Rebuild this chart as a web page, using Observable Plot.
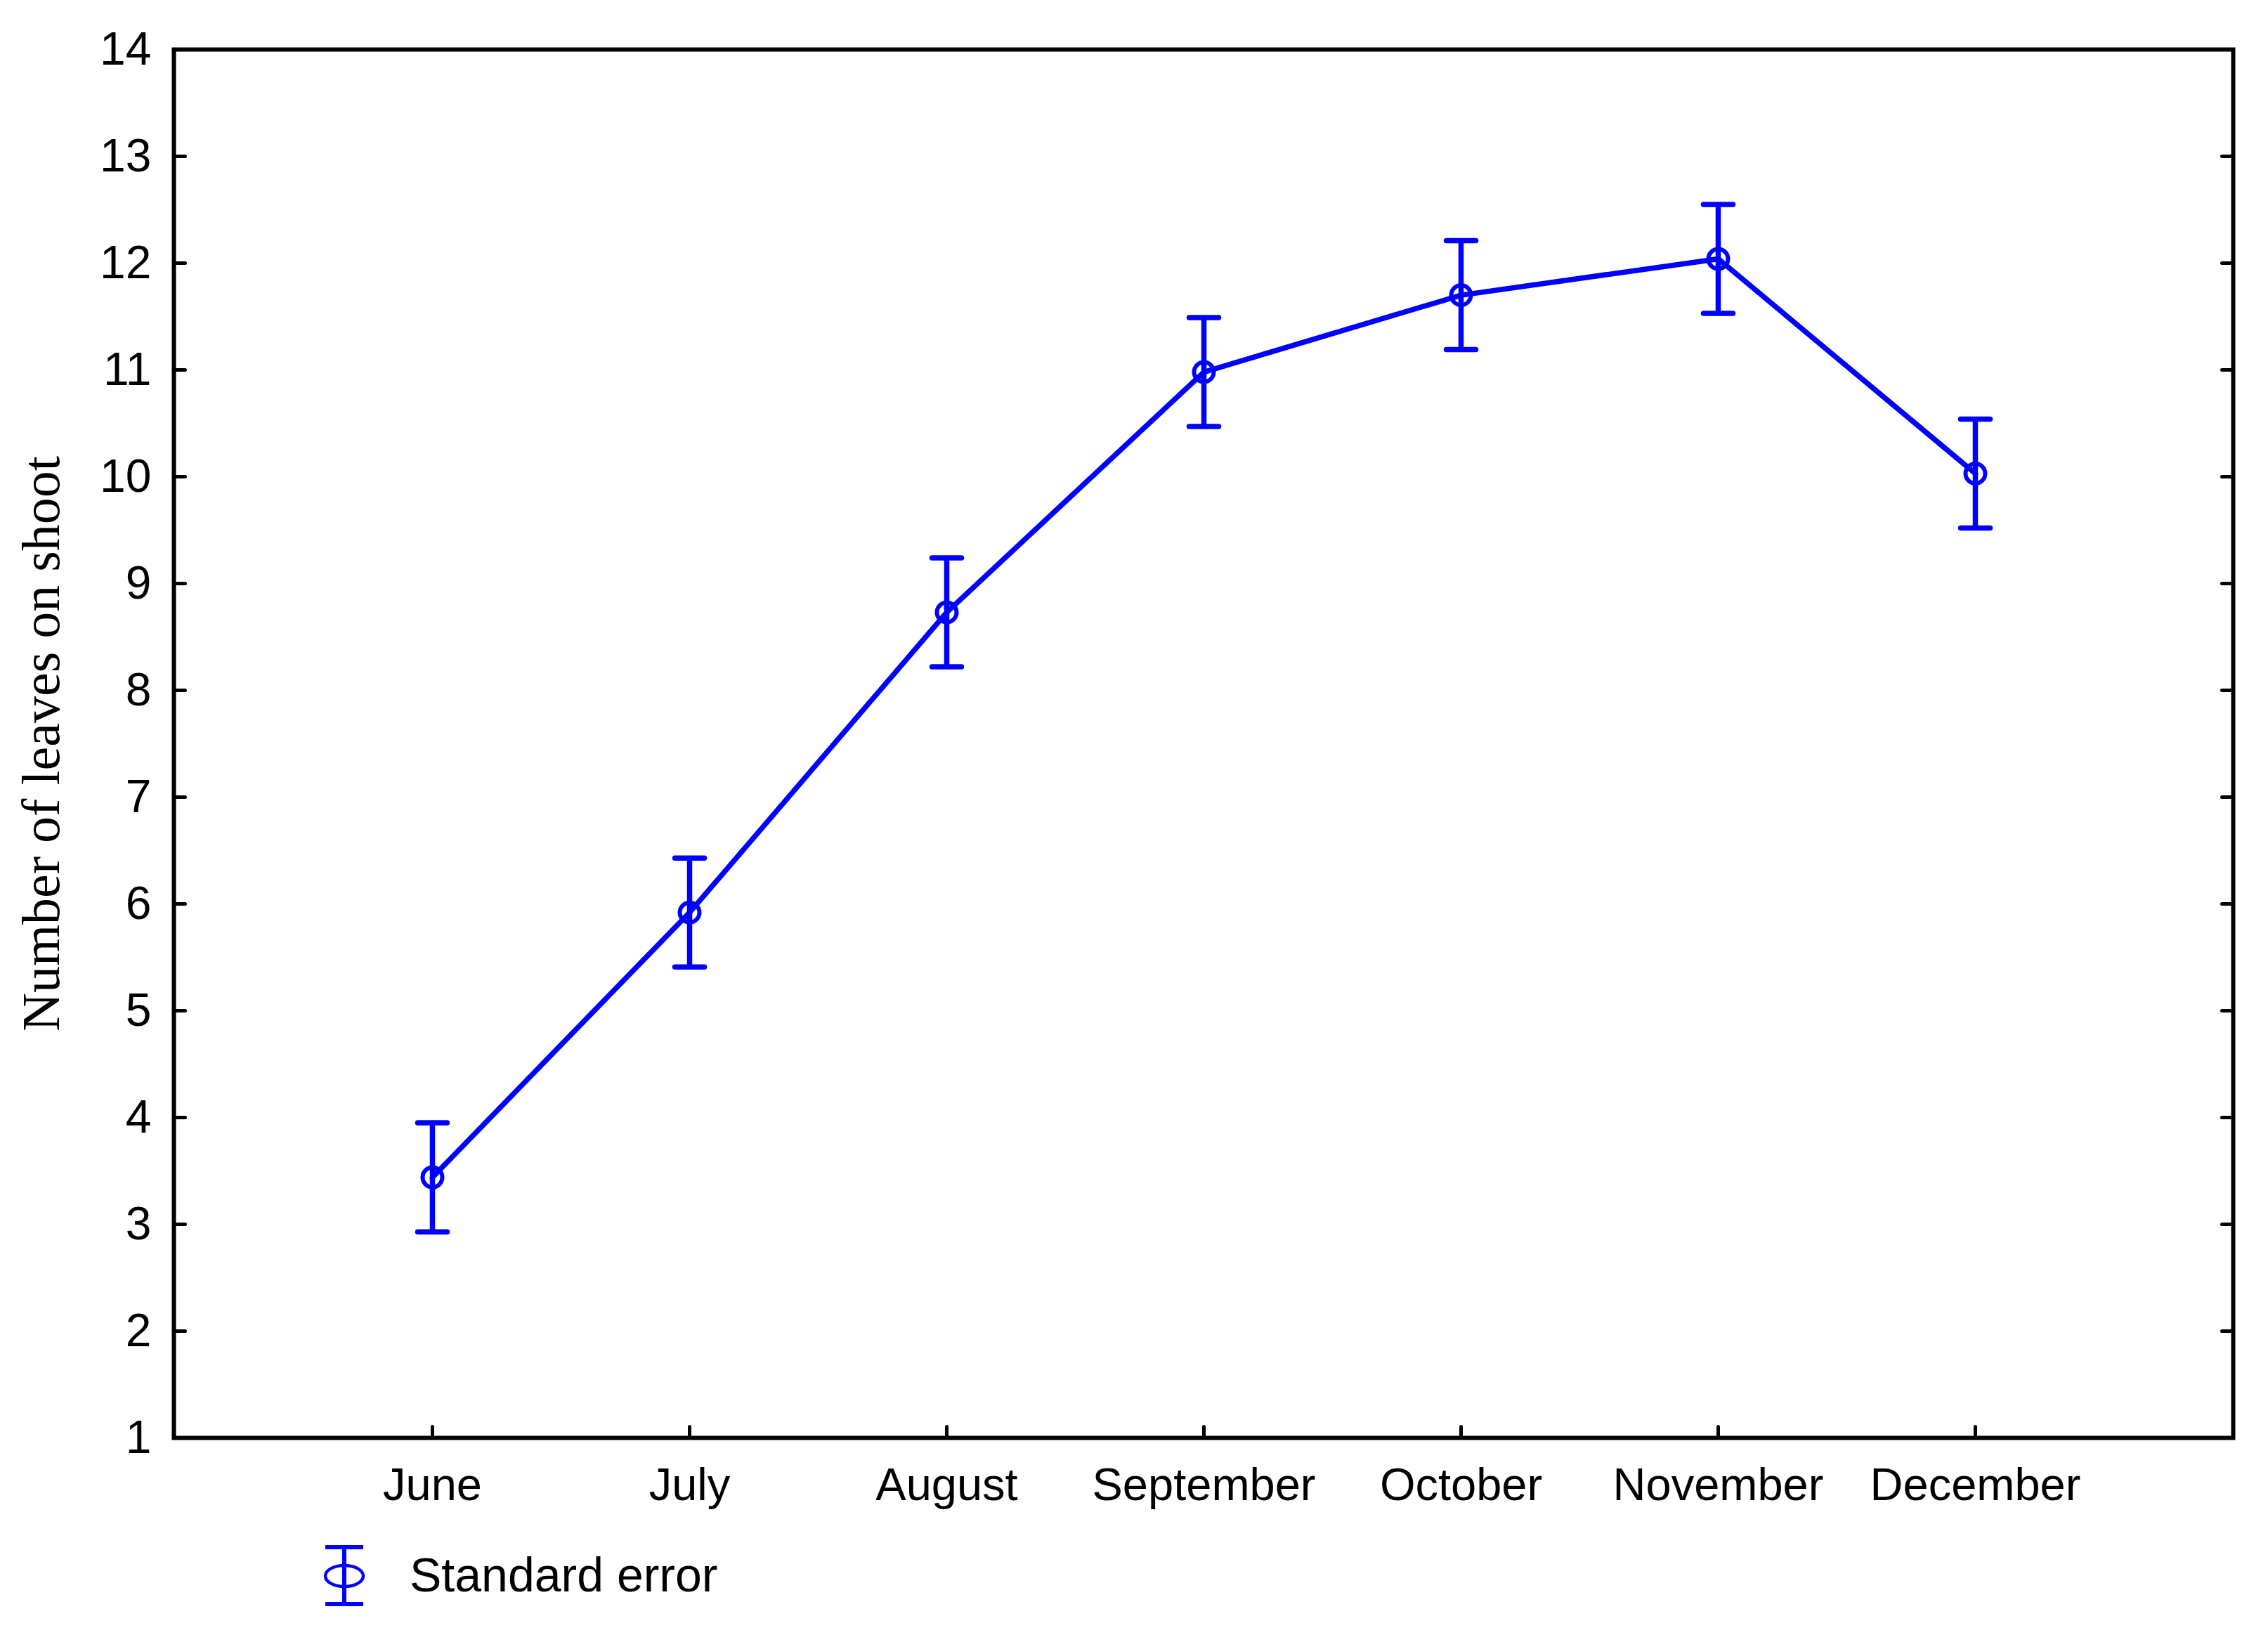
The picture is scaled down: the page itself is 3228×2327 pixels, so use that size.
<!DOCTYPE html>
<html>
<head>
<meta charset="utf-8">
<script src="https://cdn.jsdelivr.net/npm/d3@7"></script>
<script src="https://cdn.jsdelivr.net/npm/@observablehq/plot@0.6"></script>
<style>
  html, body { margin: 0; padding: 0; background: #ffffff; }
  #chart { width: 3228px; }
</style>
</head>
<body>
<div id="chart"></div>
<script>
// ---- data ----
const months = ["June", "July", "August", "September", "October", "November", "December"];
const means  = [3.44, 5.92, 8.73, 10.98, 11.70, 12.04, 10.03];
const stdErr = [0.51, 0.51, 0.51, 0.51, 0.51, 0.51, 0.51];
const yTicks = [1, 2, 3, 4, 5, 6, 7, 8, 9, 10, 11, 12, 13, 14];
const yTitle = "Number of leaves on shoot";
const legendLabel = "Standard error";

const data = months.map((m, i) => ({month: m, mean: means[i], lo: means[i] - stdErr[i], hi: means[i] + stdErr[i]}));

const BLUE = "#0000ff";
const SANS = "'Liberation Sans', Arial, sans-serif";
const SERIF = "'Liberation Serif', 'Times New Roman', serif";

// a plain straight segment (no arrow head) for vector marks
const segment = {draw(context, l) { context.moveTo(0, 0); context.lineTo(0, -l); }};

const chart = Plot.plot({
  width: 3228,
  height: 2180,
  marginLeft: 247,
  marginRight: 50,
  marginTop: 70,
  marginBottom: 134,
  style: {fontFamily: SANS, fontSize: "65px", background: "#ffffff", color: "#000000"},
  x: {type: "point", domain: months, padding: 1},
  y: {domain: [1, 14]},
  marks: [
    // inward ticks
    Plot.vector(yTicks, {y: d => d, frameAnchor: "left", rotate: 90, length: 16, anchor: "start", shape: segment, stroke: "black", strokeWidth: 5}),
    Plot.vector(yTicks, {y: d => d, frameAnchor: "right", rotate: -90, length: 16, anchor: "start", shape: segment, stroke: "black", strokeWidth: 5}),
    Plot.vector(months, {x: d => d, frameAnchor: "bottom", rotate: 0, length: 16, anchor: "start", shape: segment, stroke: "black", strokeWidth: 5}),
    Plot.frame({stroke: "black", strokeWidth: 6}),
    Plot.axisY(yTicks, {tickSize: 0, tickPadding: 32, fontSize: 66, fontFamily: SANS, label: null, tickFormat: d => String(d)}),
    Plot.axisX({tickSize: 0, tickPadding: 42, fontSize: 65, fontFamily: SANS, label: null}),
    Plot.text([yTitle], {frameAnchor: "left", rotate: -90, dx: -188, fontFamily: SERIF, fontSize: 76, fill: "black", textAnchor: "middle", lineAnchor: "middle"}),
    // data
    Plot.line(data, {x: "month", y: "mean", stroke: BLUE, strokeWidth: 7.5}),
    Plot.ruleX(data, {x: "month", y1: "lo", y2: "hi", stroke: BLUE, strokeWidth: 7.5}),
    Plot.vector(data, {x: "month", y: "hi", rotate: 90, length: 42, anchor: "middle", shape: segment, stroke: BLUE, strokeWidth: 7.5, strokeLinecap: "round"}),
    Plot.vector(data, {x: "month", y: "lo", rotate: 90, length: 42, anchor: "middle", shape: segment, stroke: BLUE, strokeWidth: 7.5, strokeLinecap: "round"}),
    Plot.dot(data, {x: "month", y: "mean", r: 14, stroke: BLUE, strokeWidth: 6, fill: "none"})
  ]
});
document.getElementById("chart").appendChild(chart);

// legend below the plot
const NS = "http://www.w3.org/2000/svg";
const leg = document.createElementNS(NS, "svg");
leg.setAttribute("width", 3228);
leg.setAttribute("height", 147);
leg.style.display = "block";
leg.innerHTML = `
  <g stroke="${BLUE}" stroke-width="6" fill="none">
    <line x1="490" y1="22" x2="490" y2="103"/>
    <line x1="463" y1="22" x2="517" y2="22"/>
    <line x1="463" y1="103" x2="517" y2="103"/>
    <ellipse cx="490" cy="63" rx="27" ry="15" stroke-width="4.5"/>
  </g>
  <text x="583" y="85" font-family="${SANS}" font-size="68" fill="#000">${legendLabel}</text>`;
document.getElementById("chart").appendChild(leg);
</script>
</body>
</html>
